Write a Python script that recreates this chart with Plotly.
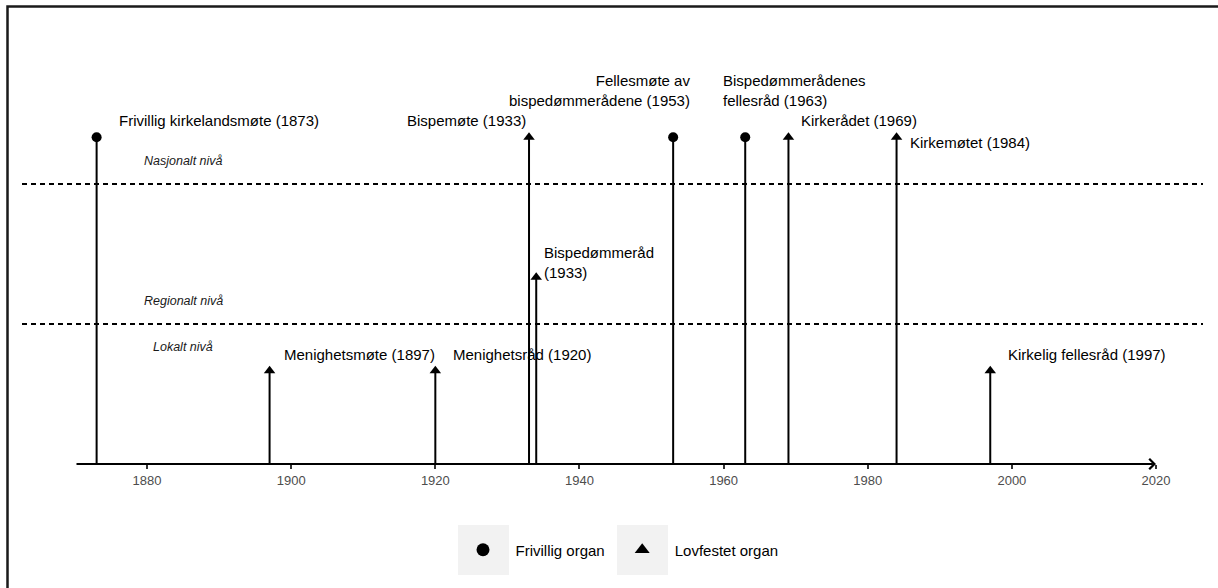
"""
Tidslinje over kirkelige organer - nasjonalt, regionalt og lokalt nivå
"""

import plotly.graph_objects as go

# ── data ──────────────────────────────────────────────
years = [1873, 1897, 1920, 1933, 1934, 1953, 1963, 1969, 1984, 1997]
labels = [
    "Frivillig kirkelandsmøte (1873)",
    "Menighetsmøte (1897)",
    "Menighetsråd (1920)",
    "Bispemøte (1933)",
    "Bispedømmeråd<br>(1933)",
    "Fellesmøte av<br>bispedømmerådene (1953)",
    "Bispedømmerådenes<br>fellesråd (1963)",
    "Kirkerådet (1969)",
    "Kirkemøtet (1984)",
    "Kirkelig fellesråd (1997)",
]
organ_type = ["Frivillig organ", "Lovfestet organ", "Lovfestet organ", "Lovfestet organ",
              "Lovfestet organ", "Frivillig organ", "Frivillig organ", "Lovfestet organ",
              "Lovfestet organ", "Lovfestet organ"]
level = ["Nasjonalt", "Lokalt", "Lokalt", "Nasjonalt", "Regionalt", "Nasjonalt",
         "Nasjonalt", "Nasjonalt", "Nasjonalt", "Lokalt"]

level_height = {"Lokalt": 2, "Regionalt": 4, "Nasjonalt": 7}
level_bounds = [3, 6]
level_names = ["Lokalt nivå", "Regionalt nivå", "Nasjonalt nivå"]
tick_years = [1880, 1900, 1920, 1940, 1960, 1980, 2000, 2020]

# ── stil ──────────────────────────────────────────────
FONT = "Liberation Sans, Arial, sans-serif"
W, H = 1218, 588
M = dict(l=75, r=62, t=40, b=124)
PW, PH = W - M["l"] - M["r"], H - M["t"] - M["b"]
Y_MAX = PH / 46.667
NB = "\u00a0"

# (xanchor, xshift, yshift, align) per etikett
label_style = [
    ("left", 20, 17, "left"),
    ("left", 12, 16, "left"),
    ("left", 16, 16, "left"),
    ("right", -1, 17, "right"),
    ("left", 6, 15, "left"),
    ("right", 19, 47, "right"),
    ("left", -24, 47, "left"),
    ("left", 11, 17, "left"),
    ("left", 11, -5, "left"),
    ("left", 16, 16, "left"),
]


def px_x(p):
    return (p - M["l"]) / PW


def px_y(p):
    return (H - M["b"] - p) / PH


tops = [level_height[lv] for lv in level]

fig = go.Figure()

# stolper
sx, sy = [], []
for yr, tp in zip(years, tops):
    sx += [yr, yr, None]
    sy += [0, tp, None]
fig.add_trace(go.Scatter(x=sx, y=sy, mode="lines", line=dict(color="black", width=2),
                         showlegend=False, hoverinfo="skip"))

# markører (+ egne legendeoppføringer med større symbol)
for name, sym, pad in [("Frivillig organ", "circle", NB * 3), ("Lovfestet organ", "triangle-up", "")]:
    idx = [i for i, t in enumerate(organ_type) if t == name]
    fig.add_trace(go.Scatter(
        x=[years[i] for i in idx], y=[tops[i] for i in idx],
        mode="markers", name=name, showlegend=False,
        marker=dict(symbol=sym, size=10, color="black"),
        hovertext=[labels[i] for i in idx], hoverinfo="text",
    ))
    fig.add_trace(go.Scatter(
        x=[None], y=[None], mode="markers", name=NB * 3 + name + pad,
        marker=dict(symbol=sym, size=13, color="black"),
    ))

# etiketter
for yr, tp, txt, (xa, xs, ys, al) in zip(years, tops, labels, label_style):
    fig.add_annotation(x=yr, y=tp, text=txt, showarrow=False, xanchor=xa, yanchor="middle",
                       xshift=xs, yshift=ys, align=al,
                       font=dict(family=FONT, size=15, color="black"))

# nivålinjer og nivånavn
for b in level_bounds:
    fig.add_shape(type="line", xref="paper", yref="y", x0=px_x(22), x1=px_x(1203), y0=b, y1=b,
                  line=dict(color="black", width=2, dash="5px,4px"))
for nm, yy in zip(level_names, [level_bounds[0] - 0.5, level_bounds[0] + 0.5, level_bounds[1] + 0.5]):
    fig.add_annotation(x=1885, y=yy, text=f"<i>{nm}</i>", showarrow=False,
                       font=dict(family=FONT, size=12.5, color="#1a1a1a"))

# tidsakse med pil
fig.add_annotation(x=2020, y=0, ax=1870, ay=0, axref="x", ayref="y", text="",
                   showarrow=True, arrowhead=4, arrowsize=1, arrowwidth=2, arrowcolor="black",
                   standoff=0, startstandoff=0)

# grå bokser bak legendesymbolene
for x0, x1 in [(458, 509), (617, 668)]:
    fig.add_shape(type="rect", xref="paper", yref="paper", x0=px_x(x0), x1=px_x(x1),
                  y0=px_y(575), y1=px_y(525), fillcolor="#F2F2F2", line=dict(width=0), layer="below")

# ramme
fig.add_shape(type="rect", xref="paper", yref="paper", x0=px_x(7.5), x1=px_x(1240),
              y0=px_y(620), y1=px_y(6.5), line=dict(color="#1a1a1a", width=2.5))

fig.update_layout(
    width=W, height=H,
    margin=M,
    paper_bgcolor="white", plot_bgcolor="white",
    font=dict(family=FONT, size=15, color="black"),
    showlegend=True,
    legend=dict(orientation="h", x=px_x(463), xanchor="left", y=px_y(550), yanchor="middle",
                bgcolor="rgba(0,0,0,0)", font=dict(size=15, color="black")),
)
fig.update_xaxes(range=[1870, 2020], tickvals=tick_years, ticks="outside", ticklen=4,
                 tickwidth=1.5, tickcolor="#333333", showgrid=False, zeroline=False,
                 showline=False, tickfont=dict(family=FONT, size=13, color="#4D4D4D"))
fig.update_yaxes(range=[0, Y_MAX], visible=False, showgrid=False, zeroline=False)

fig.write_html("out.html", config={"displayModeBar": False},
               post_script="document.body.style.margin='0';")
